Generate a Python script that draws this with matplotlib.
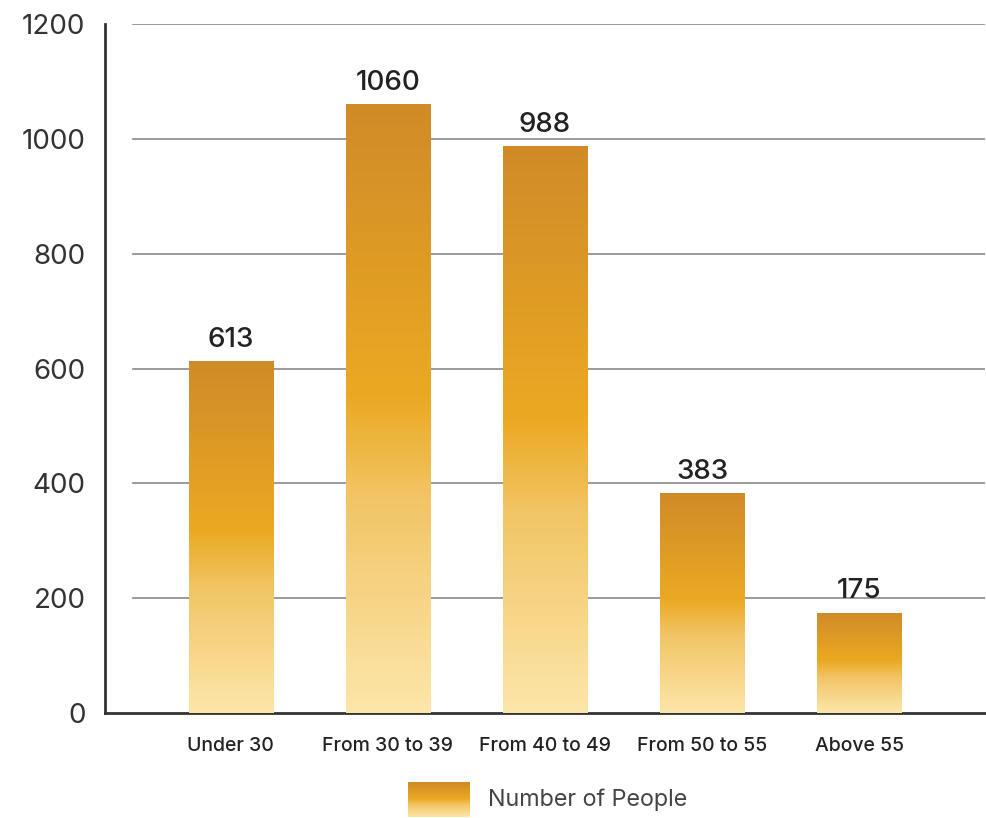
import numpy as np
import matplotlib.pyplot as plt
from matplotlib.colors import LinearSegmentedColormap

plt.rcParams['font.family'] = ['Inter', 'DejaVu Sans']

categories = ["Under 30", "From 30 to 39", "From 40 to 49", "From 50 to 55", "Above 55"]
people = [613, 1060, 988, 383, 175]
y_ticks = [0, 200, 400, 600, 800, 1000, 1200]
series_name = "Number of People"

# vertical gradient: dark amber at top, bright amber mid, pale cream at bottom
grad_cmap = LinearSegmentedColormap.from_list(
    "amber", [(0.0, "#FDE6AA"), (0.35, "#F2C566"), (0.52, "#EBA922"), (1.0, "#D08B28")])
grad = np.linspace(0, 1, 256).reshape(-1, 1)

fig = plt.figure(figsize=(9.86, 8.18), dpi=100)
ax = fig.add_axes([105 / 986, 1 - 713 / 818, 880 / 986, 689 / 818])

x = np.arange(len(categories))
bars = ax.bar(x, people, width=0.535, facecolor="none", edgecolor="none", zorder=3)
for b in bars:
    x0, y0 = b.get_x(), b.get_y()
    w, h = b.get_width(), b.get_height()
    im = ax.imshow(grad, cmap=grad_cmap, aspect="auto", origin="lower",
                   extent=(x0, x0 + w, y0, y0 + h), zorder=3, interpolation="bilinear")
    im.set_clip_path(b)
    ax.text(x0 + w / 2, y0 + h + 14, f"{int(h)}", ha="center", va="bottom",
            fontsize=20, fontweight="medium", color="#222222", zorder=4)

ax.set_xlim(-0.8, 4.8)
ax.set_ylim(0, 1200)

for t in y_ticks[1:]:
    ax.axhline(t, xmin=28 / 880, xmax=1.0, color="#8a8a8a", lw=1.2, zorder=1)

ax.set_yticks(y_ticks)
ax.set_yticklabels([str(t) for t in y_ticks], fontsize=20, color="#333333")
ax.set_xticks(x)
ax.set_xticklabels(categories, fontsize=14, fontweight="medium", color="#222222")
ax.tick_params(axis="y", length=0, pad=14)
ax.tick_params(axis="x", length=0, pad=17)

for s in ["top", "right"]:
    ax.spines[s].set_visible(False)
for s in ["left", "bottom"]:
    ax.spines[s].set_color("#333333")
    ax.spines[s].set_linewidth(2)

# legend swatch with the same gradient
lx0, ly0, lw_, lh_ = 408 / 986, 1 - 817 / 818, 62 / 986, 35 / 818
lax = fig.add_axes([lx0, ly0, lw_, lh_])
lax.imshow(grad, cmap=grad_cmap, aspect="auto", origin="lower", extent=(0, 1, 0, 1))
lax.set_axis_off()
fig.text(488 / 986, 1 - 800 / 818, series_name, fontsize=16.8, color="#444444",
         ha="left", va="center")

fig.savefig("out.png", dpi=100)
